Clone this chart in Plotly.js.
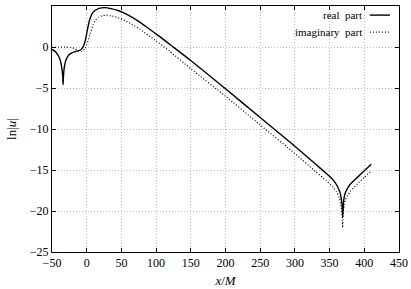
<!DOCTYPE html>
<html>
<head>
<meta charset="utf-8">
<script src="https://cdn.plot.ly/plotly-3.0.1.min.js"></script>
<style>html,body{margin:0;padding:0;background:#fff;}#chart{width:411px;height:289px;}</style>
</head>
<body>
<div id="chart"></div>
<script>
const realX = [-50,-46,-42,-39,-37,-35.5,-34.5,-34,-33.5,-32.5,-31,-29,-26,-22,-18,-14,-10,-7,-5,-3,-1,1,3,5,8,12,18,26,35,45,55,65,77,90,100,120,150,200,250,300,330,345,355,360,364,366,367.5,368.5,368.8,369.5,370,371,373,376,380,390,400,410];
const realY = [-0.3,-0.5,-0.9,-1.4,-2.0,-2.8,-3.6,-4.6,-3.6,-2.6,-1.9,-1.4,-1.0,-0.75,-0.6,-0.5,-0.4,-0.2,0.05,0.5,1.2,2.1,2.9,3.5,4.1,4.45,4.72,4.8,4.68,4.45,4.1,3.65,3.0,2.2,1.6,0.3,-1.65,-5.1,-8.6,-12.1,-14.3,-15.4,-16.2,-16.8,-17.5,-18.1,-18.9,-20.0,-20.8,-19.8,-19.0,-18.3,-17.7,-17.2,-16.7,-15.9,-15.1,-14.3];
const imagX = [-50,-40,-30,-22,-17,-12,-8,-5,-2,0,2,5,9.5,13,17,22,28,35,45,55,65,77,90,100,120,150,200,250,300,330,345,355,360,364,366,367.5,368.5,368.8,369.3,370,371,373,376,380,390,400,410];
const imagY = [-0.05,0.0,0.0,-0.05,-0.2,-0.45,-0.55,-0.45,-0.1,0.3,0.8,1.6,2.8,3.3,3.62,3.8,3.88,3.8,3.58,3.22,2.78,2.15,1.35,0.75,-0.55,-2.65,-6.0,-9.5,-13.0,-15.2,-16.3,-17.1,-17.7,-18.4,-19.1,-20.0,-21.2,-22.0,-21.0,-20.0,-19.3,-18.6,-18.1,-17.6,-16.7,-15.9,-15.1];
const seriesNames = ["real\u00a0\u00a0part", "imaginary\u00a0\u00a0part"];
const xTicks = [-50,0,50,100,150,200,250,300,350,400,450];
const yTicks = [-25,-20,-15,-10,-5,0,5];

const fam = "'Liberation Serif', 'DejaVu Serif', serif";
const font = {family: fam, size: 12, color: "#000"};
const traces = [
  {x: realX, y: realY, type: "scatter", mode: "lines", name: seriesNames[0],
   line: {color: "#000", width: 1.4, shape: "spline", smoothing: 0.5}, showlegend: false},
  {x: imagX, y: imagY, type: "scatter", mode: "lines", name: seriesNames[1],
   line: {color: "#000", width: 1.2, dash: "1px,2px", shape: "spline", smoothing: 0.5}, showlegend: false}
];
const axisCommon = {
  showline: true, linecolor: "#000", linewidth: 1, mirror: "ticks",
  ticks: "inside", ticklen: 4, tickcolor: "#000",
  showgrid: true, gridcolor: "#bdbdbd", griddash: "1px,2px", gridwidth: 1,
  zeroline: false, tickfont: font
};
const layout = {
  width: 411, height: 289,
  margin: {l: 52, r: 12, t: 6, b: 37},
  paper_bgcolor: "#fff", plot_bgcolor: "#fff",
  font: font,
  xaxis: Object.assign({}, axisCommon, {range: [-50, 450], tickvals: xTicks,
    title: {text: "<i>x</i>/<i>M</i>", font: {family: fam, size: 13}, standoff: 6}}),
  yaxis: Object.assign({}, axisCommon, {range: [-25, 5], tickvals: yTicks,
    title: {text: "ln|<i>u</i>|", font: {family: fam, size: 13}, standoff: 10}}),
  annotations: [
    {xref: "paper", yref: "paper", x: 0.899, y: 0.963, xanchor: "right", yanchor: "middle",
     text: seriesNames[0], showarrow: false, font: {family: fam, size: 11}},
    {xref: "paper", yref: "paper", x: 0.899, y: 0.894, xanchor: "right", yanchor: "middle",
     text: seriesNames[1], showarrow: false, font: {family: fam, size: 11}}
  ],
  shapes: [
    {type: "line", xref: "paper", yref: "paper", x0: 0.916, x1: 0.974, y0: 0.963, y1: 0.963,
     line: {color: "#000", width: 1.4}},
    {type: "line", xref: "paper", yref: "paper", x0: 0.916, x1: 0.974, y0: 0.894, y1: 0.894,
     line: {color: "#000", width: 1.2, dash: "1px,2px"}}
  ]
};
Plotly.newPlot("chart", traces, layout, {staticPlot: true, displayModeBar: false});
</script>
</body>
</html>
